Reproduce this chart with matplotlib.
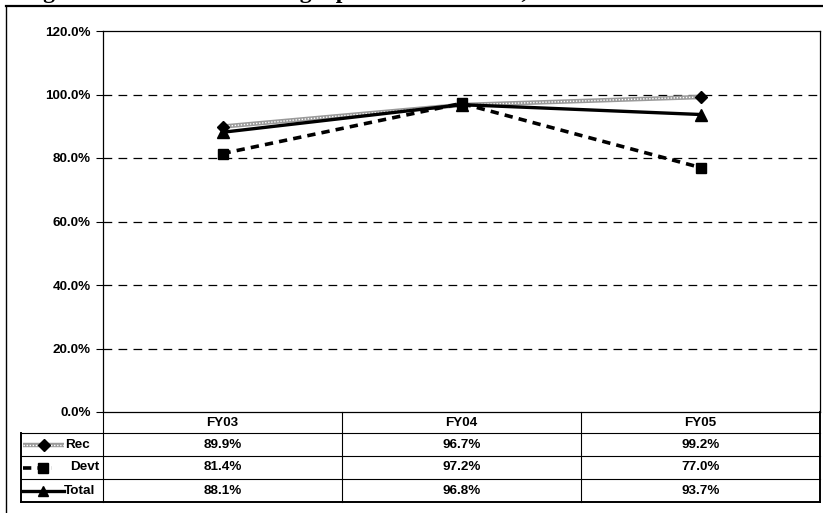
import matplotlib
matplotlib.use("Agg")
import matplotlib.pyplot as plt
from matplotlib.lines import Line2D
import numpy as np

categories = ["FY03", "FY04", "FY05"]
rec = [0.899, 0.967, 0.992]
devt = [0.814, 0.972, 0.770]
total = [0.881, 0.968, 0.937]
series_names = ["Rec", "Devt", "Total"]
yticks = [0.0, 0.2, 0.4, 0.6, 0.8, 1.0, 1.2]
title = "Figure 4: Health sector budget performance rates, FY03 to FY05"

W, H = 823, 513
FS = 9.7
plt.rcParams['font.family'] = ['Liberation Sans', 'DejaVu Sans']
fig = plt.figure(figsize=(W / 100, H / 100), dpi=100)

def fx(x):
    return x / W

def fy(y):
    return 1 - y / H

# plot area
L, R, T, B = 103, 820, 31, 412
ax = fig.add_axes([fx(L), fy(B), fx(R) - fx(L), fy(T) - fy(B)])
ax.set_xlim(0, len(categories))
ax.set_ylim(0, 1.2)
xs = np.arange(len(categories)) + 0.5

for v in yticks[1:-1]:
    ax.axhline(v, color='black', lw=0.9, ls=(0, (7, 5)), zorder=1)

# Rec: gray textured line
ax.plot(xs, rec, color='#9a9a9a', lw=3.2, zorder=3, solid_capstyle='butt')
ax.plot(xs, rec, color='white', lw=1.0, ls=(0, (1, 1.2)), zorder=3.1)
ax.plot(xs, rec, ls='none', marker='D', ms=6.5, color='black', zorder=4)
# Devt: dashed with squares
ax.plot(xs, devt, color='black', lw=2.6, ls=(0, (2.3, 1.7)), marker='s', ms=7.5, zorder=3)
# Total: solid with triangles
ax.plot(xs, total, color='black', lw=2.4, marker='^', ms=8, zorder=3.5)

ax.set_yticks(yticks)
ax.set_yticklabels([f"{v*100:.1f}%" for v in yticks], fontsize=FS, fontweight='bold')
ax.set_xticks([])
ax.tick_params(axis='y', length=5, width=0.8, pad=4)
for s in ['left', 'top', 'right', 'bottom']:
    ax.spines[s].set_linewidth(0.9)

# table
rows_y = [412, 433, 456, 479, 502]
tl = 21
col_x = [L + (R - L) * i / 3 for i in range(4)]

def hline(x0, x1, y, lw=0.8):
    fig.add_artist(Line2D([fx(x0), fx(x1)], [fy(y), fy(y)], color='black', lw=lw))

def vline(x, y0, y1, lw=0.8):
    fig.add_artist(Line2D([fx(x), fx(x)], [fy(y0), fy(y1)], color='black', lw=lw))

for y in rows_y[1:4]:
    hline(tl, R, y)
hline(tl, R, rows_y[4], lw=1.4)
vline(tl, rows_y[1], rows_y[4], lw=1.4)
for x in col_x:
    vline(x, rows_y[0], rows_y[4], lw=1.4 if x == R else 0.8)

for i, c in enumerate(categories):
    cx = (col_x[i] + col_x[i + 1]) / 2
    fig.text(fx(cx), fy((rows_y[0] + rows_y[1]) / 2), c, ha='center', va='center',
             fontsize=FS, fontweight='bold')

data = [rec, devt, total]
for r, vals in enumerate(data):
    cy = (rows_y[r + 1] + rows_y[r + 2]) / 2
    for i, v in enumerate(vals):
        cx = (col_x[i] + col_x[i + 1]) / 2
        fig.text(fx(cx), fy(cy), f"{v*100:.1f}%", ha='center', va='center',
                 fontsize=FS, fontweight='bold')

# legend keys
def key_line(y, x0, x1, **kw):
    fig.add_artist(Line2D([fx(x0), fx(x1)], [fy(y), fy(y)], **kw))

cy0 = (rows_y[1] + rows_y[2]) / 2
key_line(cy0, 23, 64, color='#9a9a9a', lw=3.2, solid_capstyle='butt')
key_line(cy0, 23, 64, color='white', lw=1.0, ls=(0, (1, 1.2)))
fig.add_artist(Line2D([fx(44)], [fy(cy0)], marker='D', ms=6.5, color='black', ls='none'))
cy1 = (rows_y[2] + rows_y[3]) / 2
key_line(cy1, 23, 52, color='black', lw=2.6, ls=(0, (2.3, 1.7)))
fig.add_artist(Line2D([fx(43)], [fy(cy1)], marker='s', ms=7.5, color='black', ls='none'))
cy2 = (rows_y[3] + rows_y[4]) / 2
key_line(cy2, 23, 64, color='black', lw=2.4)
fig.add_artist(Line2D([fx(43)], [fy(cy2)], marker='^', ms=7, color='black', ls='none'))

label_x = [65, 70, 64]
for r, name in enumerate(series_names):
    cy = (rows_y[r + 1] + rows_y[r + 2]) / 2
    fig.text(fx(label_x[r]), fy(cy), name, ha='left', va='center', fontsize=FS, fontweight='bold')

# outer frame
hline(6, W, 5.5, lw=1.6)
vline(6, 5.5, H, lw=1.0)

# clipped title (cut by the top edge as in the reference)
t = fig.text(fx(22), fy(-2.0), title, ha='left', va='baseline', fontsize=15, fontweight='bold',
             family=['Liberation Serif', 'DejaVu Serif'])
fig.canvas.draw()
bb = t.get_window_extent()
t.set_fontsize(15 * (677 - 22) / bb.width)

fig.savefig("out.png", dpi=100)
